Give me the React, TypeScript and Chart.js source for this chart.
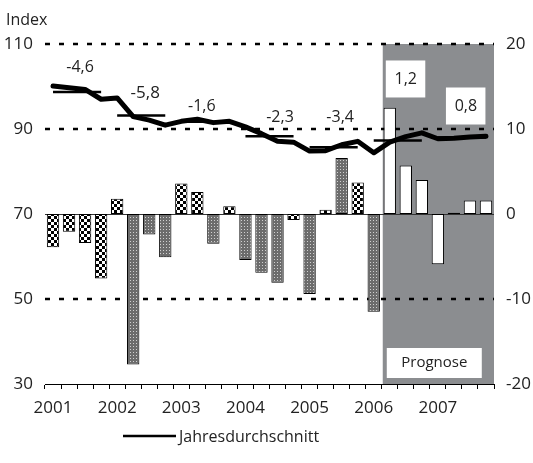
import React, { useEffect, useRef } from 'react';
import { Chart, registerables } from 'chart.js';

Chart.register(...registerables);

const years = ['2001', '2002', '2003', '2004', '2005', '2006', '2007'];
const quarters = years.flatMap((y) => ['Q1', 'Q2', 'Q3', 'Q4'].map((q) => `${y} ${q}`));

// Index (left axis)
const indexValues = [
  100.1, 99.7, 99.3, 97.0,
  97.3, 92.9, 92.1, 90.9,
  91.8, 92.3, 91.5, 91.8,
  90.5, 88.9, 87.1, 86.9,
  84.8, 84.9, 86.3, 87.1,
  84.4, 86.9, 88.2, 89.1,
  87.7, 87.8, 88.1, 88.3,
];

// Annual averages (left axis) and their change labels
const annualAverage = [98.7, 93.2, 91.7, 88.3, 85.7, 87.3, 88.0];
const annualChange = ['-4,6', '-5,8', '-1,6', '-2,3', '-3,4', '1,2', '0,8'];

// Quarterly changes (right axis)
const changeA = [
  -3.9, -2.1, -3.4, -7.6,
  1.8, null, null, null,
  3.6, 2.6, null, 0.9,
  null, null, null, -0.7,
  null, 0.5, null, 3.7,
  null, null, null, null,
  null, null, null, null,
];
const changeB = [
  null, null, null, null,
  null, -17.7, -2.4, -5.1,
  null, null, -3.5, null,
  -5.4, -6.9, -8.1, null,
  -9.4, null, 6.6, null,
  -11.5, null, null, null,
  null, null, null, null,
];
const forecastChange = [
  null, null, null, null,
  null, null, null, null,
  null, null, null, null,
  null, null, null, null,
  null, null, null, null,
  null, 12.5, 5.7, 4.0,
  -5.9, 0.15, 1.6, 1.6,
];

const forecastStartIndex = 21;
const leftTicks = [30, 50, 70, 90, 110];
const rightTicks = [-20, -10, 0, 10, 20];

const FONT = '"Open Sans", "DejaVu Sans", sans-serif';
const TEXT = '#222';

function makeChecker(): CanvasPattern | string {
  const c = document.createElement('canvas');
  c.width = 6;
  c.height = 6;
  const g = c.getContext('2d');
  if (!g) return '#777';
  g.fillStyle = '#fff';
  g.fillRect(0, 0, 6, 6);
  g.fillStyle = '#000';
  g.fillRect(0, 0, 3, 3);
  g.fillRect(3, 3, 3, 3);
  return g.createPattern(c, 'repeat') || '#777';
}

function makeGray(): CanvasPattern | string {
  const c = document.createElement('canvas');
  c.width = 3;
  c.height = 3;
  const g = c.getContext('2d');
  if (!g) return '#999';
  g.fillStyle = '#6c6c6c';
  g.fillRect(0, 0, 3, 3);
  g.fillStyle = '#d0d0d0';
  g.fillRect(1, 1, 1, 1);
  return g.createPattern(c, 'repeat') || '#999';
}

const decorPlugin = {
  id: 'decor',
  beforeDatasetsDraw(chart: any) {
    const { ctx, chartArea, scales } = chart;
    const x = scales.x;
    const y2 = scales.y2;
    ctx.save();
    // forecast shading
    const xs = (x.getPixelForValue(forecastStartIndex - 1) + x.getPixelForValue(forecastStartIndex)) / 2 + 1;
    ctx.fillStyle = '#8b8d90';
    ctx.fillRect(xs, chartArea.top, chartArea.right - xs, chartArea.bottom - chartArea.top);
    // dashed grid lines
    ctx.strokeStyle = '#000';
    ctx.lineWidth = 2.5;
    ctx.setLineDash([5, 9]);
    rightTicks.forEach((t) => {
      if (t === 0 || t === -20) return;
      const py = Math.round(y2.getPixelForValue(t));
      ctx.beginPath();
      ctx.moveTo(chartArea.left, py);
      ctx.lineTo(chartArea.right, py);
      ctx.stroke();
    });
    ctx.setLineDash([]);
    // zero line
    const p0 = Math.round(y2.getPixelForValue(0)) + 0.5;
    ctx.strokeStyle = '#333';
    ctx.lineWidth = 1;
    ctx.beginPath();
    ctx.moveTo(chartArea.left, p0);
    ctx.lineTo(chartArea.right, p0);
    ctx.stroke();
    ctx.restore();
  },
  afterDatasetsDraw(chart: any) {
    const { ctx, chartArea, scales } = chart;
    const x = scales.x;
    const y = scales.y;
    ctx.save();
    ctx.textAlign = 'center';
    ctx.textBaseline = 'middle';
    const dx = [3, 4, -3.5, 10.5, 6.5, 8, 4];
    const dy = [-25, -22.5, -15, -19, -30, -61.5, -31.5];
    annualChange.forEach((lab, i) => {
      const cx = (x.getPixelForValue(i * 4) + x.getPixelForValue(i * 4 + 3)) / 2 + dx[i];
      const cy = y.getPixelForValue(annualAverage[i]) + dy[i];
      ctx.font = `${i === 1 ? 17 : 16}px ${FONT}`;
      if (i * 4 >= forecastStartIndex - 1 && i >= 5) {
        ctx.fillStyle = '#fff';
        ctx.fillRect(cx - 20, cy - 18.5, 39.5, 37);
      }
      ctx.fillStyle = TEXT;
      ctx.fillText(lab, cx, cy);
    });
    // Prognose box
    const bx = (x.getPixelForValue(forecastStartIndex) + x.getPixelForValue(forecastStartIndex + 1)) / 2 - 10;
    ctx.fillStyle = '#fff';
    ctx.fillRect(bx - 1, chartArea.bottom - 36, 95, 30);
    ctx.fillStyle = TEXT;
    ctx.font = `15px ${FONT}`;
    ctx.fillText('Prognose', bx + 46.5, chartArea.bottom - 21);
    // axis title
    ctx.textAlign = 'left';
    ctx.font = `16px ${FONT}`;
    ctx.fillText('Index', 6, 20);
    // legend
    ctx.strokeStyle = '#000';
    ctx.lineWidth = 2.5;
    ctx.beginPath();
    ctx.moveTo(123, 436);
    ctx.lineTo(176, 436);
    ctx.stroke();
    ctx.fillStyle = TEXT;
    ctx.fillText('Jahresdurchschnitt', 179, 437);
    ctx.restore();
  },
};

export default function App() {
  const ref = useRef<HTMLCanvasElement | null>(null);

  useEffect(() => {
    document.body.style.margin = '0';
    const canvas = ref.current;
    if (!canvas) return;
    const checker = makeChecker();
    const gray = makeGray();

    const barCommon = {
      type: 'bar' as const,
      yAxisID: 'y2',
      borderColor: '#000',
      borderWidth: 1,
      borderSkipped: false,
      barPercentage: 0.77,
      categoryPercentage: 1,
      grouped: false,
      order: 3,
    };

    const avgSets = annualAverage.map((v, i) => ({
      type: 'line' as const,
      label: `Jahresdurchschnitt ${years[i]}`,
      yAxisID: 'y',
      data: [
        { x: quarters[i * 4], y: v },
        { x: quarters[i * 4 + 3], y: v },
      ],
      borderColor: '#000',
      borderWidth: 2.5,
      pointRadius: 0,
      order: 2,
    }));

    const chart = new Chart(canvas, {
      type: 'bar',
      data: {
        labels: quarters,
        datasets: [
          {
            type: 'line',
            label: 'Index',
            yAxisID: 'y',
            data: indexValues,
            borderColor: '#000',
            borderWidth: 5,
            pointRadius: 0,
            borderJoinStyle: 'round',
            borderCapStyle: 'round',
            tension: 0,
            order: 1,
          } as any,
          ...avgSets,
          { ...barCommon, label: 'Veränderung A', data: changeA, backgroundColor: checker } as any,
          { ...barCommon, label: 'Veränderung B', data: changeB, backgroundColor: gray } as any,
          { ...barCommon, label: 'Prognose', data: forecastChange, backgroundColor: '#fff' } as any,
        ],
      },
      options: {
        responsive: false,
        animation: false,
        layout: { padding: { top: 44, left: 0, right: 0, bottom: 0 } },
        plugins: {
          legend: { display: false },
          tooltip: { enabled: false },
        },
        scales: {
          x: {
            offset: true,
            grid: {
              offset: true,
              drawOnChartArea: false,
              drawTicks: true,
              tickLength: 5,
              tickColor: '#000',
              tickWidth: 1,
            },
            border: { display: true, color: '#000', width: 1 },
            ticks: {
              autoSkip: false,
              maxRotation: 0,
              padding: 9,
              color: TEXT,
              font: { size: 17, family: FONT },
              callback: (_v: any, i: number) => (i % 4 === 0 ? years[i / 4] : ''),
            },
            afterFit: (s: any) => {
              s.height = 79;
            },
          },
          y: {
            position: 'left',
            min: 30,
            max: 110,
            afterBuildTicks: (s: any) => {
              s.ticks = leftTicks.map((v) => ({ value: v }));
            },
            grid: { display: false, drawTicks: false },
            border: { display: false },
            ticks: { padding: 12, color: TEXT, font: { size: 17, family: FONT } },
            afterFit: (s: any) => {
              s.width = 45;
            },
          },
          y2: {
            position: 'right',
            min: -20,
            max: 20,
            afterBuildTicks: (s: any) => {
              s.ticks = rightTicks.map((v) => ({ value: v }));
            },
            grid: { display: false, drawTicks: false },
            border: { display: false },
            ticks: { padding: 12, color: TEXT, font: { size: 17, family: FONT } },
            afterFit: (s: any) => {
              s.width = 39;
            },
          },
        },
      } as any,
      plugins: [decorPlugin],
    });
    return () => chart.destroy();
  }, []);

  return (
    <div style={{ position: 'fixed', left: 0, top: 0, width: 533, height: 463, background: '#fff' }}>
      <canvas ref={ref} width={533} height={463} />
    </div>
  );
}
